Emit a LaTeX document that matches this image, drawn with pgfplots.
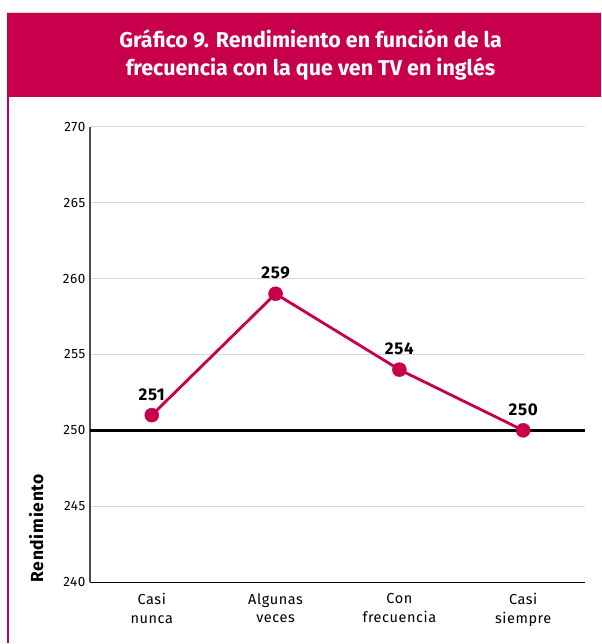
\documentclass[border=0pt]{standalone}
\usepackage{pgfplots}
\pgfplotsset{compat=1.18}
\usepackage{fontspec}
\setmainfont{Fira Sans}
\newfontfamily\wide[LetterSpace=4]{Fira Sans}
\definecolor{crim}{HTML}{C8004B}
\definecolor{gridg}{HTML}{D9D9D9}
\begin{document}
\begin{tikzpicture}[x=1pt,y=1pt]
\path (0,0) rectangle (602,644);
\fill[crim] (7,547) rectangle (602,631);
\draw[gridg, line width=0.8pt] (7,631.4) -- (602,631.4);
\draw[crim, line width=2pt] (8,0) -- (8,547);
\node[white, font=\fontsize{21.5}{29}\selectfont\bfseries, align=center] at (311,589) {Gráfico 9. Rendimiento en función de la\\frecuencia con la que ven TV en inglés};
\begin{axis}[
  at={(90pt,61pt)}, anchor=south west,
  scale only axis, width=496pt, height=456pt,
  xmin=-0.5, xmax=3.5, ymin=240, ymax=270,
  ytick={240,245,...,270},
  xtick={0,1,2,3},
  xticklabels={Casi\\nunca, Algunas\\veces, Con\\frecuencia, Casi\\siempre},
  xticklabel style={align=center, font=\wide\fontsize{14.5}{18.5}\selectfont, yshift=-8pt},
  yticklabel style={font=\wide\fontsize{13.5}{15}\selectfont, xshift=-1pt},
  /pgf/number format/assume math mode=true,
  axis x line*=bottom, axis y line*=left,
  x axis line style={black, line width=1pt, -},
  y axis line style={black!70, line width=1.6pt, -},
  ymajorgrids, grid style={gridg, line width=0.8pt},
  major tick length=0pt,
  clip=false,
]
\addplot[black, line width=2.8pt, forget plot] coordinates {(-0.5,250) (3.5,250)};
\addplot[crim, line width=2.8pt, mark=*, mark size=7pt, mark options={fill=crim, draw=crim, line width=0.5pt},
  nodes near coords, every node near coord/.append style={font=\wide\fontsize{17}{19}\selectfont\bfseries, black, yshift=11pt}]
  coordinates {(0,251) (1,259) (2,254) (3,250)};
\end{axis}
\node[rotate=90, anchor=south, font=\wide\fontsize{17.5}{19}\selectfont\bfseries] at (47,115) {Rendimiento};
\end{tikzpicture}
\end{document}
